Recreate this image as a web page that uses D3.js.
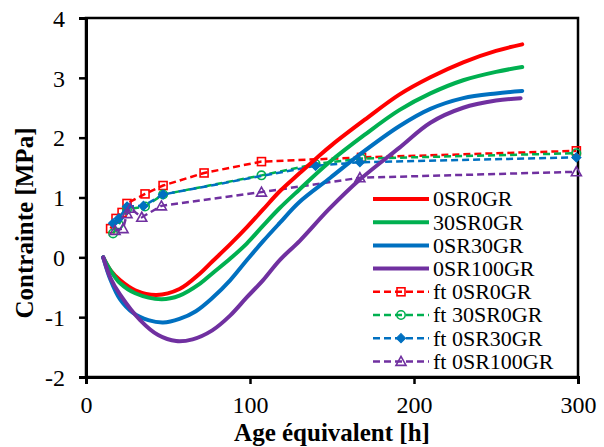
<!DOCTYPE html>
<html>
<head>
<meta charset="utf-8">
<script src="https://cdn.jsdelivr.net/npm/d3@7"></script>
<style>
  body { margin: 0; background: #fff; }
  svg { display: block; }
  text { font-family: 'Liberation Serif', 'Times New Roman', Times, serif; }
</style>
</head>
<body>
<div id="chart"></div>
<script>
// DATA -- measured curves (age [h], stress [MPa])
var age_0SR0GR   = [10.5, 15, 20.7, 30, 43, 57, 69.5, 77, 88, 98, 108, 118, 130, 141, 150, 170, 191, 210, 230, 250, 266];
var val_0SR0GR   = [0, -0.22, -0.38, -0.55, -0.63, -0.53, -0.27, -0.07, 0.22, 0.5, 0.8, 1.1, 1.4, 1.67, 1.88, 2.3, 2.72, 3.01, 3.26, 3.45, 3.56];

var age_30SR0GR  = [10.5, 15, 20.7, 30, 46, 57, 69.5, 77, 88, 98, 108, 118, 130, 148, 170, 191, 210, 230, 250, 266];
var val_30SR0GR  = [0, -0.22, -0.43, -0.6, -0.7, -0.64, -0.44, -0.27, -0.02, 0.23, 0.53, 0.82, 1.13, 1.58, 2.05, 2.46, 2.74, 2.96, 3.1, 3.18];

var age_0SR30GR  = [10.5, 15, 20.7, 28.7, 38, 47, 57, 67, 77, 88, 98, 108, 118, 130, 149, 167, 191, 210, 230, 250, 266];
var val_0SR30GR  = [0, -0.38, -0.7, -0.93, -1.05, -1.09, -1.03, -0.9, -0.68, -0.38, -0.05, 0.27, 0.57, 0.92, 1.33, 1.72, 2.19, 2.48, 2.66, 2.74, 2.78];

var age_0SR100GR = [10.5, 15, 20.7, 33, 44, 55, 65, 77, 88, 98, 108, 118, 130.5, 148, 167, 191, 210, 230, 250, 265];
var val_0SR100GR = [0, -0.35, -0.62, -1.05, -1.3, -1.4, -1.37, -1.22, -0.97, -0.67, -0.38, -0.05, 0.28, 0.8, 1.3, 1.83, 2.25, 2.5, 2.62, 2.66];

// FIT SERIES (markers)
var ftAge_0SR0GR   = [15, 18.3, 22, 25, 36, 47, 72, 107, 168, 299];
var ftVal_0SR0GR   = [0.48, 0.65, 0.75, 0.9, 1.06, 1.2, 1.41, 1.6, 1.67, 1.78];

var ftAge_30SR0GR  = [16.5, 20, 25, 36, 47, 107, 140, 168, 299];
var ftVal_30SR0GR  = [0.4, 0.55, 0.8, 0.85, 1.05, 1.37, 1.56, 1.65, 1.74];

var ftAge_0SR30GR  = [16.5, 20, 25, 35, 47, 140, 167, 299];
var ftVal_0SR30GR  = [0.57, 0.65, 0.85, 0.86, 1.05, 1.53, 1.59, 1.67];

var ftAge_0SR100GR = [17.7, 22.6, 25, 27, 34, 46, 107, 167, 299];
var ftVal_0SR100GR = [0.45, 0.48, 0.73, 0.82, 0.67, 0.86, 1.09, 1.33, 1.43];

var legendLabels = ['0SR0GR', '30SR0GR', '0SR30GR', '0SR100GR', 'ft 0SR0GR', 'ft 30SR0GR', 'ft 0SR30GR', 'ft 0SR100GR'];
var xTicks = [0, 100, 200, 300];
var yTicks = [-2, -1, 0, 1, 2, 3, 4];

// SETTINGS
var colors = { red: '#FF0000', green: '#00B050', blue: '#0070C0', purple: '#7030A0' };
var W = 604, H = 447;
var plot = { left: 86, right: 578, top: 18, bottom: 377 };
var serif = "'Liberation Serif', 'Times New Roman', Times, serif";

var solid = [
   { ages: age_0SR0GR, vals: val_0SR0GR, color: colors.red },
   { ages: age_30SR0GR, vals: val_30SR0GR, color: colors.green },
   { ages: age_0SR30GR, vals: val_0SR30GR, color: colors.blue },
   { ages: age_0SR100GR, vals: val_0SR100GR, color: colors.purple }
];
var fits = [
   { ages: ftAge_0SR0GR, vals: ftVal_0SR0GR, color: colors.red, marker: 'square' },
   { ages: ftAge_30SR0GR, vals: ftVal_30SR0GR, color: colors.green, marker: 'circle' },
   { ages: ftAge_0SR30GR, vals: ftVal_0SR30GR, color: colors.blue, marker: 'diamond' },
   { ages: ftAge_0SR100GR, vals: ftVal_0SR100GR, color: colors.purple, marker: 'triangle' }
];

// SCALES
var x = d3.scaleLinear().domain([0, 300]).range([plot.left, plot.right]);
var y = d3.scaleLinear().domain([-2, 4]).range([plot.bottom, plot.top]);

var svg = d3.select('#chart').append('svg').attr('width', W).attr('height', H);

// FRAME
svg.append('rect')
   .attr('x', plot.left).attr('y', plot.top)
   .attr('width', plot.right - plot.left).attr('height', plot.bottom - plot.top)
   .attr('fill', 'none').attr('stroke', '#000').attr('stroke-width', 2.5);

// AXES -- plain hyphen minus like the original
var fmt = function (d) { return String(d); };
var xAxis = svg.append('g')
   .attr('transform', 'translate(0,' + plot.bottom + ')')
   .call(d3.axisBottom(x).tickValues(xTicks).tickFormat(fmt).tickSize(7).tickPadding(12));
var yAxis = svg.append('g')
   .attr('transform', 'translate(' + plot.left + ',0)')
   .call(d3.axisLeft(y).tickValues(yTicks).tickFormat(fmt).tickSize(7).tickPadding(14));

[xAxis, yAxis].forEach(function (g) {
   g.attr('font-family', serif).attr('font-size', 24);
   g.select('.domain').attr('stroke', '#000').attr('stroke-width', 3);
   g.selectAll('.tick line').attr('stroke', '#000').attr('stroke-width', 2.5);
   g.selectAll('.tick text').attr('fill', '#000');
});
yAxis.selectAll('.tick text').attr('dy', '0.34em');

// AXIS TITLES
svg.append('text')
   .attr('x', (plot.left + plot.right) / 2).attr('y', 441)
   .attr('text-anchor', 'middle')
   .attr('font-family', serif).attr('font-size', 25).attr('font-weight', 'bold')
   .text('Age équivalent [h]');
svg.append('text')
   .attr('transform', 'translate(33,223) rotate(-90)')
   .attr('text-anchor', 'middle')
   .attr('font-family', serif).attr('font-size', 25).attr('font-weight', 'bold')
   .text('Contrainte [MPa]');

// LINE GENERATORS
var smoothLine = d3.line().x(function (d) { return x(d[0]); }).y(function (d) { return y(d[1]); }).curve(d3.curveCatmullRom);
var straightLine = d3.line().x(function (d) { return x(d[0]); }).y(function (d) { return y(d[1]); });

function pairs(s) { return s.ages.map(function (a, i) { return [a, s.vals[i]]; }); }

// MARKER DRAWING
function drawMarker(g, type, cx, cy, color) {
   if (type === 'square') {
      g.append('rect').attr('x', cx - 4).attr('y', cy - 4).attr('width', 8).attr('height', 8)
         .attr('fill', 'none').attr('stroke', color).attr('stroke-width', 1.6);
   } else if (type === 'circle') {
      g.append('circle').attr('cx', cx).attr('cy', cy).attr('r', 4.2)
         .attr('fill', 'none').attr('stroke', color).attr('stroke-width', 1.6);
   } else if (type === 'diamond') {
      g.append('path').attr('d', 'M' + cx + ',' + (cy - 4.5) + 'L' + (cx + 4.5) + ',' + cy + 'L' + cx + ',' + (cy + 4.5) + 'L' + (cx - 4.5) + ',' + cy + 'Z')
         .attr('fill', color).attr('stroke', color).attr('stroke-width', 1.2);
   } else {
      g.append('path').attr('d', 'M' + cx + ',' + (cy - 5) + 'L' + (cx + 5) + ',' + (cy + 4) + 'L' + (cx - 5) + ',' + (cy + 4) + 'Z')
         .attr('fill', 'none').attr('stroke', color).attr('stroke-width', 1.6);
   }
}

// FIT LINES (behind)
fits.forEach(function (s) {
   svg.append('path')
      .attr('d', straightLine(pairs(s)))
      .attr('fill', 'none').attr('stroke', s.color)
      .attr('stroke-width', 2.5).attr('stroke-dasharray', '7,4');
   var g = svg.append('g');
   pairs(s).forEach(function (p) { drawMarker(g, s.marker, x(p[0]), y(p[1]), s.color); });
});

// MEASURED CURVES
solid.forEach(function (s) {
   svg.append('path')
      .attr('d', smoothLine(pairs(s)))
      .attr('fill', 'none').attr('stroke', s.color)
      .attr('stroke-width', 4).attr('stroke-linejoin', 'round').attr('stroke-linecap', 'round');
});

// LEGEND
var legendRows = solid.concat(fits);
var legend = svg.append('g').attr('font-family', serif).attr('font-size', 22);
legendRows.forEach(function (s, i) {
   var ly = 199 + i * 23.2;
   var isFit = i >= 4;
   legend.append('line')
      .attr('x1', 373).attr('x2', 429).attr('y1', ly).attr('y2', ly)
      .attr('stroke', s.color)
      .attr('stroke-width', isFit ? 2.5 : 4)
      .attr('stroke-dasharray', isFit ? '7,4' : null);
   if (isFit) drawMarker(legend, s.marker, 401, ly, s.color);
   legend.append('text')
      .attr('x', 433).attr('y', ly).attr('dy', '0.34em')
      .text(legendLabels[i]);
});
</script>
</body>
</html>
